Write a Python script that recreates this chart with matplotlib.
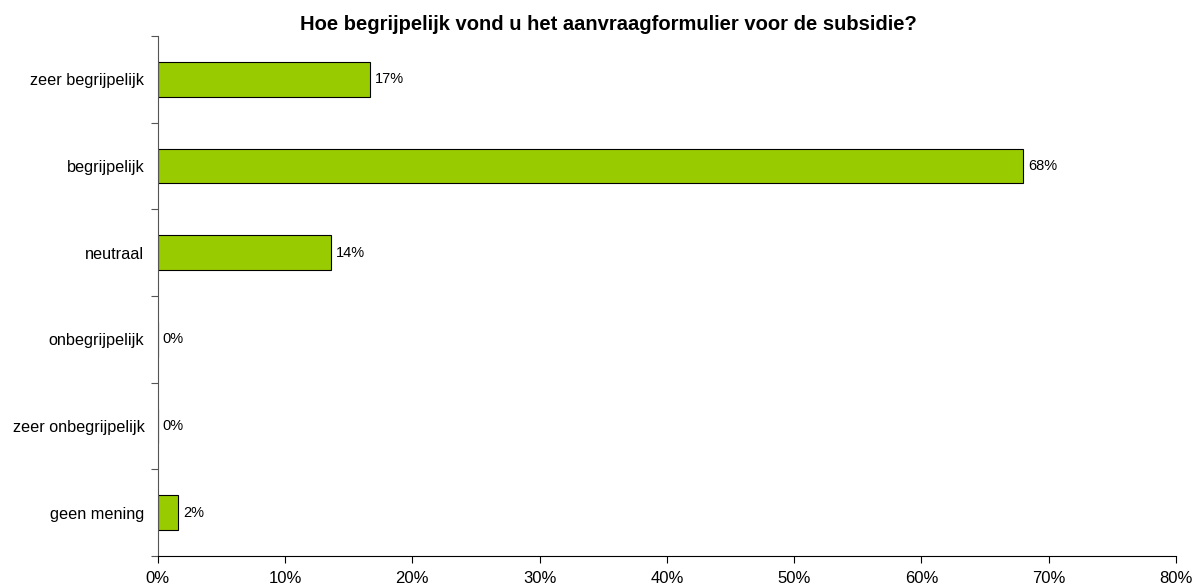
import matplotlib
matplotlib.use("Agg")
import matplotlib.pyplot as plt
from matplotlib.ticker import FixedLocator

plt.rcParams['font.family'] = ['Liberation Sans', 'DejaVu Sans']

categories = ["zeer begrijpelijk", "begrijpelijk", "neutraal", "onbegrijpelijk",
              "zeer onbegrijpelijk", "geen mening"]
values = [16.7, 68.0, 13.6, 0.0, 0.0, 1.6]
labels = ["17%", "68%", "14%", "0%", "0%", "2%"]
xticks = [0, 10, 20, 30, 40, 50, 60, 70, 80]
title = "Hoe begrijpelijk vond u het aanvraagformulier voor de subsidie?"

fig = plt.figure(figsize=(12, 5.87), dpi=100)
ax = fig.add_axes([0.1314, 0.0528, 0.98 - 0.1314, 0.9387 - 0.0528])

n = len(categories)
ypos = list(range(n))
ax.barh(ypos, values, height=0.4, color="#99cc00", edgecolor="black", linewidth=0.8)
for y, v, t in zip(ypos, values, labels):
    ax.text(v + 0.4, y, t, va="center", ha="left", fontsize=10.5)

ax.set_ylim(n - 0.5, -0.5)
ax.set_xlim(0, 80)
ax.set_yticks(ypos)
ax.set_yticklabels(categories, fontsize=11.7)
ax.tick_params(axis="y", which="major", length=0, pad=9.5)
ax.yaxis.set_minor_locator(FixedLocator([i - 0.5 for i in range(n + 1)]))
ax.tick_params(axis="y", which="minor", length=5, width=0.8, color="#555555")
ax.set_xticks(xticks)
ax.set_xticklabels([f"{x}%" for x in xticks], fontsize=12)
ax.tick_params(axis="x", length=5, width=0.8, pad=6)
for s in ["top", "right"]:
    ax.spines[s].set_visible(False)
ax.spines["left"].set_color("#555555")
ax.spines["left"].set_linewidth(0.8)
ax.spines["bottom"].set_linewidth(0.8)
fig.text(0.507, 0.958, title, ha="center", va="center", fontsize=14.5, fontweight="bold")
fig.savefig("out.png", dpi=100)
